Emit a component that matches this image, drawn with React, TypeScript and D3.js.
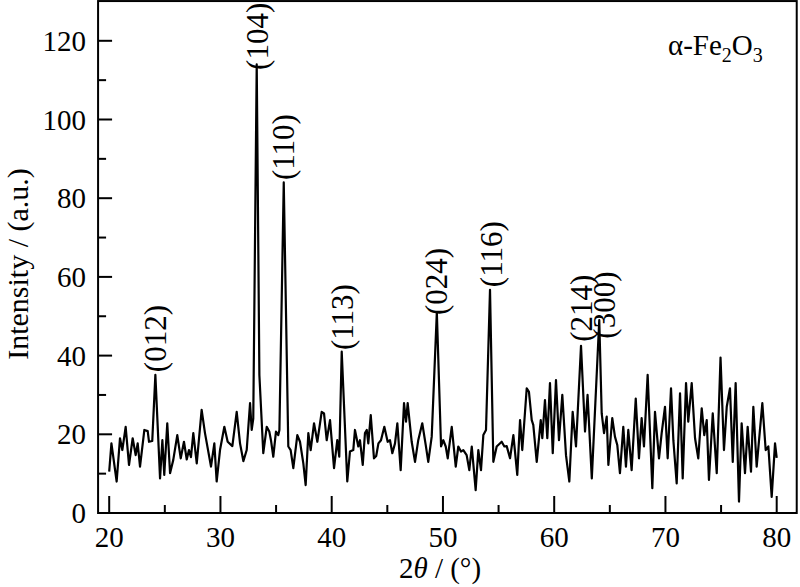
import React from "react";
import * as d3 from "d3";

const twoTheta = [
  20.0, 20.2, 20.67, 20.97, 21.18, 21.48, 21.78, 22.11, 22.38, 22.56, 22.77, 23.16, 23.46, 23.58, 23.87,
  24.15, 24.57, 24.78, 24.95, 25.22, 25.47, 25.76, 26.12, 26.43, 26.72, 26.97, 27.17, 27.35, 27.56, 27.87,
  28.31, 28.61, 29.15, 29.45, 29.66, 29.96, 30.35, 30.65, 31.07, 31.46, 31.76, 32.06, 32.36, 32.66, 32.81,
  32.95, 33.26, 33.5, 33.85, 34.16, 34.39, 34.54, 34.75, 34.99, 35.2, 35.3, 35.69, 36.1, 36.31, 36.55,
  36.91, 37.15, 37.45, 37.66, 37.9, 38.11, 38.41, 38.71, 39.1, 39.31, 39.55, 39.85, 40.21, 40.5, 40.68,
  40.9, 41.4, 41.64, 41.94, 42.09, 42.39, 42.54, 42.79, 42.99, 43.15, 43.29, 43.51, 43.8, 44.0, 44.2,
  44.43, 44.73, 45.03, 45.24, 45.45, 45.69, 45.9, 46.2, 46.5, 46.68, 46.83, 47.19, 47.49, 47.78, 48.14,
  48.45, 48.68, 48.99, 49.45, 49.83, 50.03, 50.25, 50.43, 50.79, 51.15, 51.38, 51.62, 51.83, 52.13, 52.37,
  52.59, 52.94, 53.18, 53.42, 53.63, 53.87, 54.23, 54.53, 54.83, 55.28, 55.52, 55.73, 56.03, 56.33, 56.68,
  56.93, 57.13, 57.53, 57.73, 57.98, 58.12, 58.43, 58.79, 58.93, 59.17, 59.38, 59.62, 59.87, 60.16, 60.43,
  60.73, 61.06, 61.36, 61.66, 61.96, 62.41, 62.77, 63.0, 63.38, 64.05, 64.27, 64.48, 64.72, 64.87, 65.22,
  65.46, 65.67, 65.91, 66.21, 66.45, 66.66, 66.96, 67.33, 67.62, 67.86, 68.07, 68.4, 68.82, 69.06, 69.42,
  69.66, 69.96, 70.2, 70.5, 70.71, 71.01, 71.31, 71.55, 71.85, 72.05, 72.36, 72.66, 72.95, 73.26, 73.49,
  73.71, 73.91, 74.25, 74.61, 74.95, 75.26, 75.51, 75.8, 76.05, 76.31, 76.61, 76.85, 77.15, 77.39, 77.69,
  77.9, 78.2, 78.71, 79.01, 79.25, 79.55, 79.85, 80.0,
];

const intensity = [
  10.5, 17.7, 8.0, 19.0, 16.0, 21.9, 12.2, 19.0, 14.7, 17.7, 11.8, 21.1, 20.8, 18.1, 18.3,
  35.1, 8.8, 18.5, 9.7, 22.8, 10.1, 13.5, 19.8, 13.9, 18.1, 13.6, 16.0, 14.2, 20.3, 12.6,
  26.2, 20.3, 11.8, 17.7, 8.0, 16.0, 21.9, 18.1, 17.0, 25.7, 17.7, 13.2, 16.0, 27.9, 21.1,
  24.0, 114.0, 35.0, 15.2, 21.9, 20.7, 18.5, 14.3, 20.7, 19.8, 21.1, 84.0, 16.9, 16.0, 11.4,
  19.8, 18.1, 12.6, 7.1, 20.3, 16.0, 22.8, 18.1, 25.7, 25.3, 18.5, 23.6, 11.4, 18.5, 14.3,
  41.0, 8.0, 15.6, 16.0, 21.1, 16.9, 18.5, 12.2, 20.3, 21.1, 17.7, 24.9, 13.9, 14.5, 17.7,
  18.5, 21.9, 18.1, 18.5, 15.2, 17.7, 22.8, 10.9, 27.9, 23.2, 27.9, 18.1, 13.0, 18.5, 22.8,
  17.3, 13.0, 19.4, 51.0, 16.9, 18.5, 16.9, 13.9, 21.9, 11.8, 16.9, 15.6, 16.0, 14.7, 10.9,
  16.9, 5.8, 16.0, 10.9, 19.8, 21.1, 56.7, 13.0, 16.9, 18.1, 16.9, 17.0, 13.9, 19.8, 9.7,
  23.6, 16.0, 31.7, 30.8, 23.6, 22.4, 13.0, 23.6, 19.0, 28.7, 19.0, 33.0, 15.2, 33.8, 18.5,
  30.0, 14.7, 8.0, 25.7, 16.9, 42.5, 20.7, 30.0, 8.8, 49.0, 25.3, 20.3, 24.5, 12.2, 24.1,
  19.4, 17.3, 10.1, 21.9, 11.8, 21.1, 10.9, 29.1, 13.9, 24.1, 16.9, 35.1, 6.3, 25.7, 13.9,
  20.3, 27.0, 13.9, 31.7, 18.5, 7.5, 30.4, 8.8, 33.0, 23.2, 33.0, 19.0, 13.9, 26.6, 19.8,
  23.6, 8.4, 25.3, 10.1, 39.5, 16.0, 27.0, 31.7, 13.0, 33.0, 2.9, 22.8, 10.1, 21.9, 10.5,
  27.0, 11.8, 27.9, 16.0, 16.9, 4.1, 17.7, 14.0,
];

const xTicks = [20, 30, 40, 50, 60, 70, 80];
const xMinorTicks = [25, 35, 45, 55, 65, 75];
const yTicks = [0, 20, 40, 60, 80, 100, 120];
const yMinorTicks = [10, 30, 50, 70, 90, 110];

const peakLabels = ["(012)", "(104)", "(110)", "(113)", "(024)", "(116)", "(214)", "(300)"];
const peakLabelTheta = [24.13, 33.29, 35.62, 40.93, 49.38, 54.32, 62.41, 64.48];
const peakLabelBase = [35.8, 112.6, 84.6, 41.4, 50.3, 57.4, 43.5, 44.3];

const FONT = "'Liberation Serif', 'Times New Roman', Times, serif";

export default function App() {
  const x = d3.scaleLinear().domain([20, 80]).range([109.2, 776.7]);
  const y = d3.scaleLinear().domain([0, 120]).range([513, 40.8]);
  const fx0 = x(19.0);
  const fx1 = x(81.8);
  const fy0 = y(130.1);
  const fy1 = y(0);

  const pts = twoTheta.map((t, i) => [t, intensity[i]] as [number, number]);
  const line = d3
    .line<[number, number]>()
    .x((d) => x(d[0]))
    .y((d) => y(d[1]));

  return (
    <svg
      width={800}
      height={587}
      style={{ position: "absolute", left: 0, top: 0, background: "#fff" }}
      fontFamily={FONT}
    >
      <rect x={0} y={0} width={800} height={587} fill="#fff" />
      <path d={line(pts) || ""} fill="none" stroke="#000" strokeWidth={2.2} strokeLinejoin="round" />

      {/* frame */}
      <rect x={fx0} y={fy0} width={fx1 - fx0} height={fy1 - fy0} fill="none" stroke="#000" strokeWidth={2} />

      {/* x ticks */}
      {xTicks.map((t) => (
        <g key={"xt" + t}>
          <line x1={x(t)} x2={x(t)} y1={fy1} y2={fy1 - 17} stroke="#000" strokeWidth={2} />
          <text x={x(t)} y={547} textAnchor="middle" fontSize={29}>
            {t}
          </text>
        </g>
      ))}
      {xMinorTicks.map((t) => (
        <line key={"xm" + t} x1={x(t)} x2={x(t)} y1={fy1} y2={fy1 - 8} stroke="#000" strokeWidth={2} />
      ))}

      {/* y ticks */}
      {yTicks.map((t) => (
        <g key={"yt" + t}>
          <line x1={fx0} x2={fx0 + 14} y1={y(t)} y2={y(t)} stroke="#000" strokeWidth={2} />
          <text x={86} y={y(t)} textAnchor="end" dominantBaseline="central" fontSize={29}>
            {t}
          </text>
        </g>
      ))}
      {yMinorTicks.map((t) => (
        <line key={"ym" + t} x1={fx0} x2={fx0 + 8} y1={y(t)} y2={y(t)} stroke="#000" strokeWidth={2} />
      ))}

      {/* axis titles */}
      <text transform={`translate(28,${264}) rotate(-90)`} textAnchor="middle" fontSize={30}>
        Intensity / (a.u.)
      </text>
      <text x={440} y={578} textAnchor="middle" fontSize={29}>
        2<tspan fontStyle="italic">θ</tspan> / (°)
      </text>

      {/* peak labels */}
      {peakLabels.map((lab, i) => (
        <text
          key={lab}
          transform={`translate(${x(peakLabelTheta[i]) + 11},${y(peakLabelBase[i])}) rotate(-90)`}
          textAnchor="start"
          fontSize={31}
        >
          {lab}
        </text>
      ))}

      {/* phase label */}
      <text x={668} y={55} fontSize={29}>
        α-Fe<tspan fontSize={20} dy={7}>2</tspan>
        <tspan dy={-7}>O</tspan>
        <tspan fontSize={20} dy={7}>3</tspan>
      </text>
    </svg>
  );
}
